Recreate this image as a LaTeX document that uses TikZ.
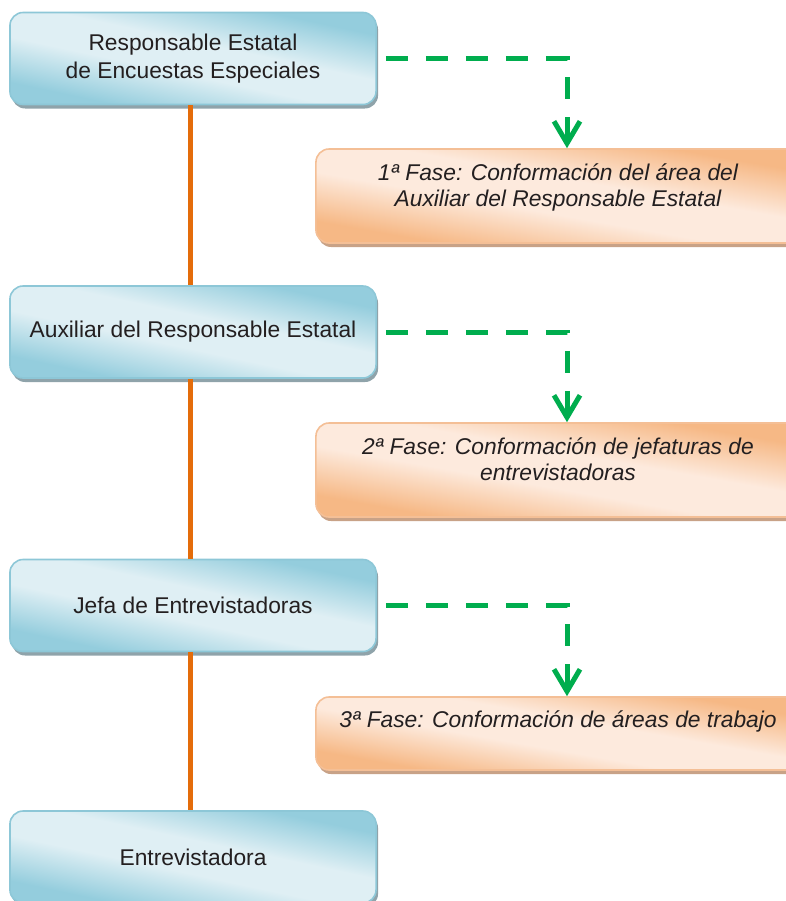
\documentclass[tikz,border=0pt]{standalone}
\usepackage{fontspec}
\setmainfont{Liberation Sans}
\usepackage{tikz}
\usetikzlibrary{calc, arrows.meta, positioning, shadows}
\definecolor{azulclaro}{HTML}{DFEFF4}
\definecolor{azuloscuro}{HTML}{94CDDD}
\definecolor{azulborde}{HTML}{8DC7D7}
\definecolor{azulsombra}{HTML}{8FA3AA}
\definecolor{naranjaclaro}{HTML}{FDEADD}
\definecolor{naranjaoscuro}{HTML}{F6B885}
\definecolor{naranjaborde}{HTML}{F4BF96}
\definecolor{naranjasombra}{HTML}{C8A287}
\definecolor{linea}{HTML}{E46C0A}
\definecolor{verde}{HTML}{00AD4E}
\definecolor{texto}{HTML}{231F20}
\pgfdeclareverticalshading{brilloazul}{100bp}{color(0bp)=(azuloscuro); color(28bp)=(azuloscuro);
  color(44bp)=(azulclaro); color(56bp)=(azulclaro); color(72bp)=(azuloscuro); color(100bp)=(azuloscuro)}
\pgfdeclareverticalshading{brillonaranja}{100bp}{color(0bp)=(naranjaoscuro); color(28bp)=(naranjaoscuro);
  color(44bp)=(naranjaclaro); color(56bp)=(naranjaclaro); color(72bp)=(naranjaoscuro); color(100bp)=(naranjaoscuro)}

\begin{document}
\begin{tikzpicture}[x=0.025cm,y=-0.025cm,
  puesto/.style={rounded corners=0.33cm, draw=azulborde, line width=0.04cm,
    minimum width=9.15cm, minimum height=2.3cm,
    shading=brilloazul, shading angle=-12,
    drop shadow={shadow xshift=0.05cm, shadow yshift=-0.1cm, fill=azulsombra, opacity=1},
    align=center, text=texto, font=\fontsize{16.2}{19.6}\selectfont},
  fase/.style={rounded corners=0.33cm, draw=naranjaborde, line width=0.04cm,
    minimum width=12.1cm, minimum height=2.35cm,
    shading=brillonaranja, shading angle=-10,
    drop shadow={shadow xshift=0.05cm, shadow yshift=-0.1cm, fill=naranjasombra, opacity=1}},
  fasetxt/.style={inner sep=0pt, align=center, text=texto,
    font=\fontsize{16.2}{18.6}\selectfont\itshape},
  enlace/.style={linea, line width=0.14cm},
  flujo/.style={verde, line width=0.125cm, dash pattern=on 0.55cm off 0.45cm, line join=miter,
    -{Straight Barb[length=0.55cm,width=0.65cm]}}]
\path[use as bounding box, clip] (0,0) rectangle (786,901);

% puestos
\node[puesto] (b1) at (193,58.5) {Responsable Estatal\\de Encuestas Especiales};
\node[puesto] (b2) at (193,332) {Auxiliar del Responsable Estatal};
\node[puesto] (b3) at (193,605.5) {Jefa de Entrevistadoras};
\node[puesto] (b4) at (193,857) {Entrevistadora};

% fases
\node[fase] (f1) at (558,196) {};
\node[fase] (f2) at (558,470) {};
\node[fase, minimum height=1.825cm] (f3) at (558,733.5) {};
\node[fasetxt, below=0.375cm of f1.north] (t1) {1ª Fase: Conformación del área del\\Auxiliar del Responsable Estatal};
\node[fasetxt, below=0.375cm of f2.north] (t2) {2ª Fase: Conformación de jefaturas de\\entrevistadoras};
\node[fasetxt, below=0.35cm of f3.north] (t3) {3ª Fase: Conformación de áreas de trabajo};

\draw[enlace] ([xshift=-0.06cm]b1.south) -- ([xshift=-0.06cm]b2.north);
\draw[enlace] ([xshift=-0.06cm]b2.south) -- ([xshift=-0.06cm]b3.north);
\draw[enlace] ([xshift=-0.06cm]b3.south) -- ([xshift=-0.06cm]b4.north);

\draw[flujo] ($(b1.east)+(9,0)$) -| ($(f1.north)+(9,0)$);
\draw[flujo] ($(b2.east)+(9,0)$) -| ($(f2.north)+(9,0)$);
\draw[flujo] ($(b3.east)+(9,0)$) -| ($(f3.north)+(9,0)$);
\end{tikzpicture}
\end{document}
